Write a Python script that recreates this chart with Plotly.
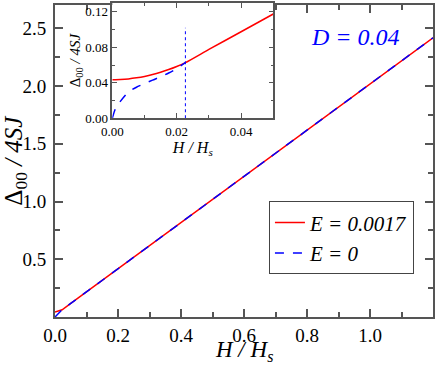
import plotly.graph_objects as go

# main panel: Delta_00 / 4SJ versus H / H_s
h_main = [0.0, 0.0227, 0.05, 0.2, 0.4, 0.6, 0.8, 1.0, 1.2]
gap_e17_main = [0.0435, 0.0627, 0.1176, 0.418, 0.818, 1.218, 1.618, 2.018, 2.418]
gap_e0_main = [0.0, 0.0627, 0.1176, 0.418, 0.818, 1.218, 1.618, 2.018, 2.418]

# inset: low-field region
h_inset = [0.0, 0.001, 0.0025, 0.005, 0.0075, 0.01, 0.0125, 0.015, 0.0175, 0.02, 0.0227]
gap_e0_inset = [0.0, 0.011, 0.019, 0.0296, 0.035, 0.039, 0.043, 0.0467, 0.051, 0.056, 0.0627]
gap_e17_inset = [0.0435, 0.0435, 0.0437, 0.0444, 0.0456, 0.0472, 0.0493, 0.0519, 0.0549, 0.0584, 0.0627]
h_inset_high = [0.0227, 0.03, 0.04, 0.05]
gap_e17_inset_high = [0.0627, 0.0776, 0.0976, 0.1176]

h_crossover = 0.0227
crossover_top = 0.102

serif = "Liberation Serif, Tinos, Nimbus Roman, DejaVu Serif"
frame = "#555555"

fig = go.Figure()

fig.add_trace(go.Scatter(x=h_main, y=gap_e17_main, mode="lines", name="<i>E = 0.0017</i>",
                         line=dict(color="#ff0000", width=1.5)))
fig.add_trace(go.Scatter(x=h_main, y=gap_e0_main, mode="lines", name="<i>E = 0</i>",
                         line=dict(color="#0000ff", width=1.5, dash="dash")))

fig.add_trace(go.Scatter(x=h_inset + h_inset_high[1:], y=gap_e17_inset + gap_e17_inset_high[1:],
                         mode="lines", line_shape="spline", showlegend=False, xaxis="x2", yaxis="y2",
                         line=dict(color="#ff0000", width=1.5, smoothing=0.6)))
fig.add_trace(go.Scatter(x=h_inset, y=gap_e0_inset, mode="lines", line_shape="spline",
                         showlegend=False, xaxis="x2", yaxis="y2",
                         line=dict(color="#0000ff", width=1.5, dash="dash", smoothing=0.6)))
fig.add_trace(go.Scatter(x=[h_crossover, h_crossover], y=[0, crossover_top], mode="lines",
                         showlegend=False, xaxis="x2", yaxis="y2",
                         line=dict(color="#0000ff", width=1, dash="dot")))

axis_common = dict(showline=True, linecolor=frame, mirror="ticks", ticks="inside",
                   tickcolor=frame, showgrid=False, zeroline=False, automargin=False)

fig.update_layout(
    width=436, height=365,
    margin=dict(l=55, r=3, t=3, b=48),
    paper_bgcolor="white", plot_bgcolor="white",
    font=dict(family=serif, color="black"),
    xaxis=dict(**axis_common, range=[0, 1.2], domain=[0, 1], linewidth=2, tickwidth=1.5, ticklen=8,
               tickvals=[0, 0.2, 0.4, 0.6, 0.8, 1.0], tickformat=".1f",
               tickfont=dict(size=19, family=serif),
               minor=dict(dtick=0.1, ticks="inside", ticklen=5, tickcolor=frame)),
    yaxis=dict(**axis_common, range=[0, 2.7], domain=[0, 0.993], linewidth=2, tickwidth=1.5, ticklen=8,
               tickvals=[0.5, 1.0, 1.5, 2.0, 2.5], tickformat=".1f",
               tickfont=dict(size=19, family=serif), ticklabelstandoff=3,
               minor=dict(dtick=0.25, ticks="inside", ticklen=5, tickcolor=frame),
               title=dict(text="Δ<sub>00</sub><i> / 4SJ</i>", font=dict(size=25, family=serif), standoff=6)),
    xaxis2=dict(**axis_common, anchor="y2", range=[0, 0.05], domain=[0.1516, 0.5775],
                linewidth=1.5, ticklen=5, tickvals=[0, 0.02, 0.04], tickformat=".2f",
                tickfont=dict(size=13, family=serif),
                minor=dict(dtick=0.01, ticks="inside", ticklen=3, tickcolor=frame),
                title=dict(text="<i>H / H<sub>s</sub></i>", font=dict(size=16, family=serif), standoff=0)),
    yaxis2=dict(**axis_common, anchor="x2", range=[0, 0.13], domain=[0.633, 1.0],
                linewidth=1.5, ticklen=5, tickvals=[0, 0.04, 0.08, 0.12], tickformat=".2f",
                tickfont=dict(size=13, family=serif),
                minor=dict(dtick=0.02, ticks="inside", ticklen=3, tickcolor=frame),
                title=dict(text="Δ<sub>00</sub><i> / 4SJ</i>", font=dict(size=15, family=serif), standoff=0)),
    legend=dict(x=0.566, y=0.368, xanchor="left", yanchor="top",
                bgcolor="white", bordercolor="#444444", borderwidth=1,
                font=dict(size=21, family=serif)),
    annotations=[
        dict(text="<i>D = 0.04</i>", x=0.794, y=0.893, xref="paper", yref="paper",
             xanchor="center", yanchor="middle", showarrow=False,
             font=dict(size=24, color="#0000ff", family=serif)),
        dict(text="<i>H / H<sub>s</sub></i>", x=0.5, y=-0.109, xref="paper", yref="paper",
             xanchor="center", yanchor="middle", showarrow=False,
             font=dict(size=23, family=serif)),
    ],
)

# the page's default body margin would shift the whole figure by 8 px
fig.write_html("out.html", config={"displayModeBar": False},
               post_script="document.body.style.margin = '0';")
